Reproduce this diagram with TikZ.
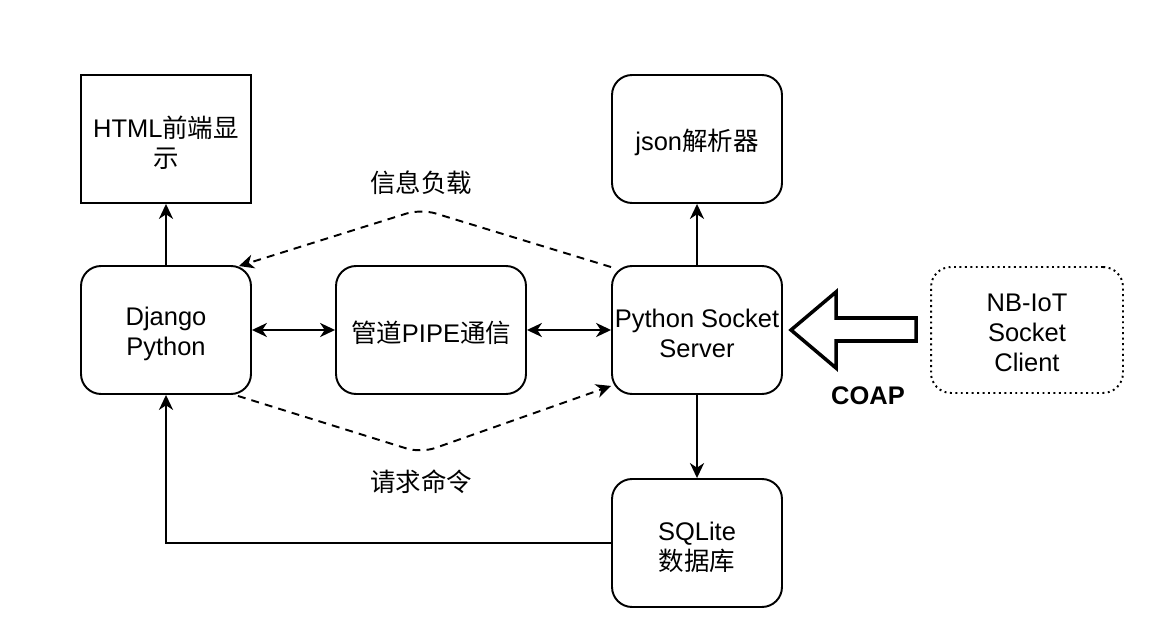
\documentclass[tikz,border=0pt]{standalone}
\usepackage{fontspec}
\setmainfont{Liberation Sans}
\newfontfamily\cjk{Noto Sans CJK SC}
\usetikzlibrary{arrows.meta,calc}
\begin{document}
\begin{tikzpicture}[x=0.02cm,y=-0.02cm,
  every node/.style={font=\fontsize{14.5}{17}\selectfont},
  box/.style={draw,line width=1.1pt,minimum width=3.4cm,minimum height=2.56cm,inner sep=0pt},
  rbox/.style={box,rounded corners=0.4cm},
  txt/.style={align=center,inner sep=1pt},
  tip/.tip={Stealth[length=8.5pt,width=8pt,inset=2.6pt]},
  conn/.style={line width=1.1pt,-tip},
  dconn/.style={line width=1.1pt,tip-tip},
  dashconn/.style={conn,dash pattern=on 4.5pt off 3.5pt,rounded corners=0.3cm},
  lbl/.style={font=\fontsize{14.5}{17}\selectfont\cjk}
]
\useasboundingbox (0,0) rectangle (1152,641);
\node[box] (html) at (166,139) {};
\node[rbox] (django) at (166,330) {};
\node[rbox,minimum width=3.8cm] (pipe) at (431,330) {};
\node[rbox] (server) at (697,330) {};
\node[rbox] (json) at (697,139) {};
\node[rbox] (sqlite) at (697,543) {};
\node[rbox,minimum width=3.84cm,minimum height=2.52cm,dotted,line width=1.1pt] (nb) at (1027,330) {};

\node[txt] (html-t) at ($(html)+(0,4)$) {HTML{\cjk 前端显}\\{\cjk 示}};
\node[txt] (django-t) at ($(django)+(0,4)$) {Django\\Python};
\node[txt] (pipe-t) at ($(pipe)+(0,3)$) {{\cjk 管道}PIPE{\cjk 通信}};
\node[txt] (server-t) at ($(server)+(0,3)$) {Python Socket\\Server};
\node[txt] (json-t) at ($(json)+(0,3)$) {json{\cjk 解析器}};
\node[txt] (sqlite-t) at ($(sqlite)+(0,4)$) {SQLite\\{\cjk 数据库}};
\node[txt] (nb-t) at ($(nb)+(0,3)$) {NB-IoT\\Socket\\Client};

\draw[conn] (django.north) -- (html.south);
\draw[conn] (server.north) -- (json.south);
\draw[conn] (server.south) -- (sqlite.north);
\draw[dconn] (django.east) -- (pipe.west);
\draw[dconn] (pipe.east) -- (server.west);
\draw[conn] (sqlite.west) -| (django.south);

\coordinate (up) at (421,209);
\coordinate (dn) at (421,453);
\draw[dashconn] ($(server.north west)+(0,2)$) -- (up) -- ($(django.north east)+(-13,1)$);
\draw[dashconn] ($(django.south east)+(-14,1)$) -- (dn) -- ($(server.south west)+(0,-9)$);

\node[lbl] (l1) at (421,183) {信息负载};
\node[lbl] (l2) at (421,482) {请求命令};

\draw[line width=2pt,miter limit=10] (791,330) -- (836,292) -- (836,318) -- (916,318) -- (916,341) -- (836,341) -- (836,368) -- cycle;
\node[font=\fontsize{14.5}{17}\selectfont\bfseries] (coap) at (868,396) {COAP};
\end{tikzpicture}
\end{document}
